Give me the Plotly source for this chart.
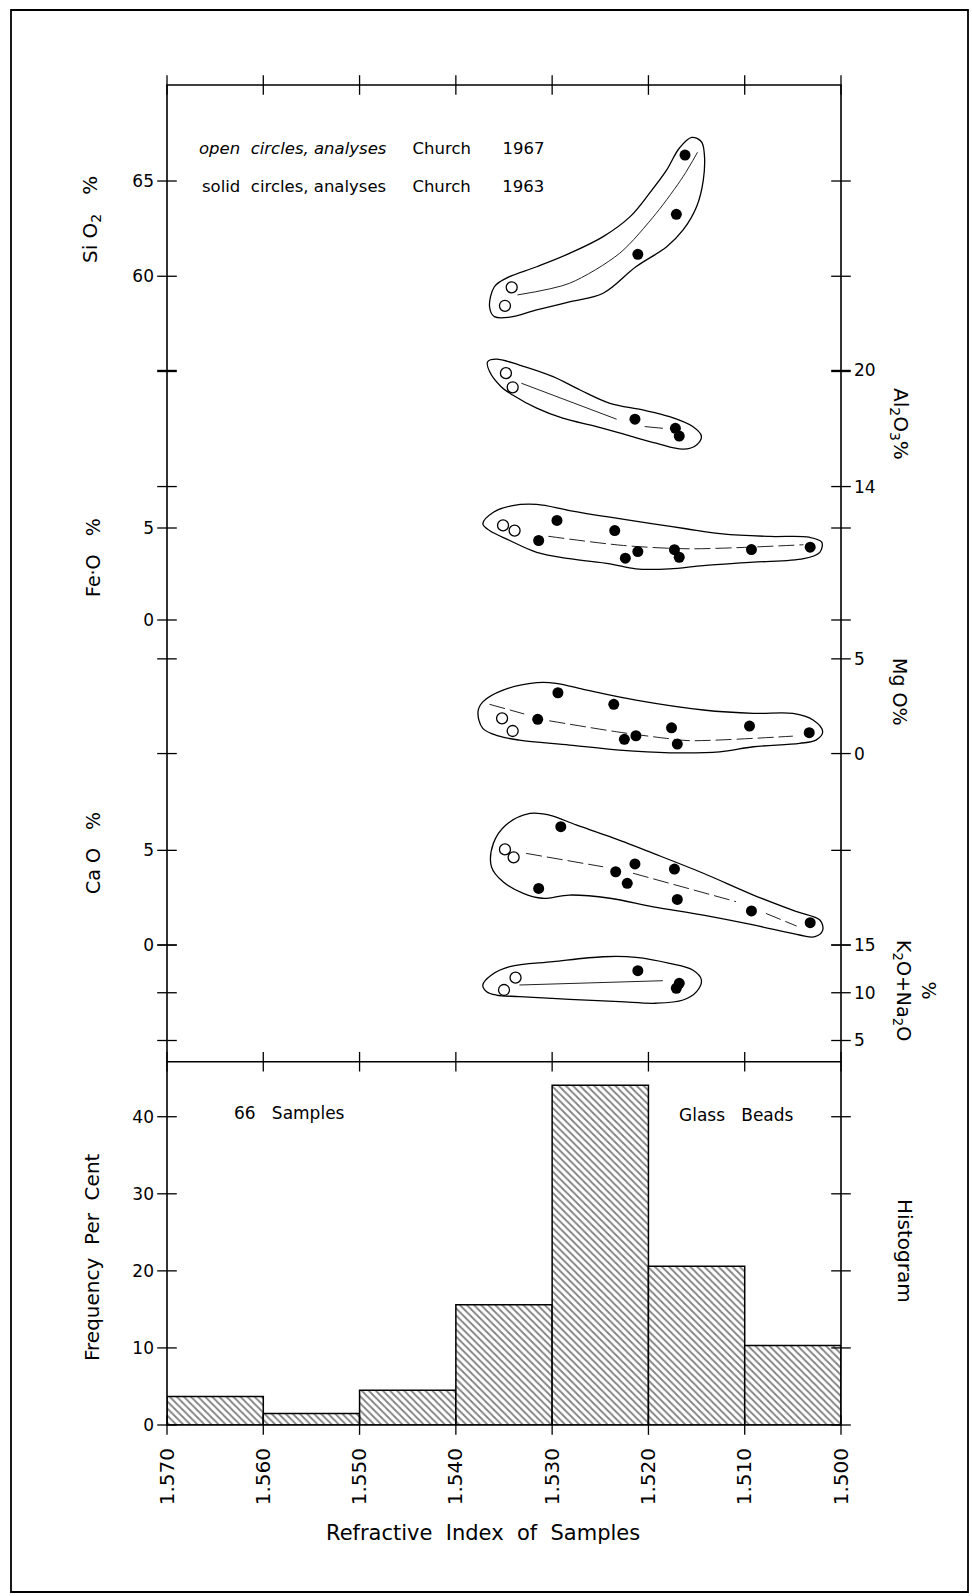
import plotly.graph_objects as go

# ---------------- data ----------------
RI_TICKS = [1.570, 1.560, 1.550, 1.540, 1.530, 1.520, 1.510, 1.500]
RI_LABELS = ["1.570", "1.560", "1.550", "1.540", "1.530", "1.520", "1.510", "1.500"]

HIST_LEFT_EDGES = [1.570, 1.560, 1.550, 1.540, 1.530, 1.520, 1.510]
HIST_FREQ = [3.7, 1.5, 4.5, 15.6, 44.1, 20.6, 10.3]
HIST_TICKS = [0, 10, 20, 30, 40]

# SiO2
SIO2_OPEN_RI = [1.5342, 1.5349]
SIO2_OPEN = [59.42, 58.45]
SIO2_SOLID_RI = [1.5162, 1.5171, 1.5211]
SIO2_SOLID = [66.36, 63.25, 61.15]
SIO2_ENV_RI = [1.5365, 1.5360, 1.5348, 1.5316, 1.5282, 1.5247, 1.5219, 1.5199, 1.5181, 1.5168, 1.5155, 1.5145,
               1.5142, 1.5143, 1.5150, 1.5164, 1.5181, 1.5213, 1.5247, 1.5282, 1.5316, 1.5344, 1.5360]
SIO2_ENV = [58.40, 59.45, 59.89, 60.50, 61.20, 62.08, 63.13, 64.35, 65.58, 66.72, 67.29, 67.06,
            66.45, 65.05, 63.65, 62.43, 61.55, 60.50, 59.11, 58.66, 58.23, 57.85, 57.88]
SIO2_TREND_RI = [1.5336, 1.5282, 1.5230, 1.5192, 1.5164, 1.5149]
SIO2_TREND = [59.02, 59.63, 61.20, 63.30, 65.23, 66.51]

# Al2O3
AL_OPEN_RI = [1.5348, 1.5341]
AL_OPEN = [19.86, 19.13]
AL_SOLID_RI = [1.5214, 1.5172, 1.5168]
AL_SOLID = [17.48, 17.01, 16.61]
AL_ENV_RI = [1.5367, 1.5358, 1.5334, 1.5299, 1.5271, 1.5240, 1.5206, 1.5178, 1.5154, 1.5145, 1.5150, 1.5164,
             1.5192, 1.5223, 1.5254, 1.5289, 1.5316, 1.5341, 1.5353, 1.5365]
AL_ENV = [20.45, 20.58, 20.28, 19.68, 18.99, 18.30, 17.96, 17.61, 17.10, 16.61, 16.15, 15.93,
          16.24, 16.67, 17.10, 17.53, 18.05, 18.73, 19.16, 19.94]
AL_TREND_RI = [1.5332, 1.5233, None, 1.5204, 1.5185]
AL_TREND = [19.34, 17.48, None, 17.10, 17.01]

# FeO
FE_OPEN_RI = [1.5351, 1.5339]
FE_OPEN = [5.14, 4.86]
FE_SOLID_RI = [1.5295, 1.5235, 1.5314, 1.5211, 1.5224, 1.5173, 1.5168, 1.5093, 1.5032]
FE_SOLID = [5.41, 4.86, 4.32, 3.72, 3.36, 3.82, 3.41, 3.83, 3.96]
FE_ENV_RI = [1.5372, 1.5361, 1.5341, 1.5316, 1.5282, 1.5240, 1.5195, 1.5161, 1.5123, 1.5074, 1.5033, 1.5020,
             1.5022, 1.5039, 1.5091, 1.5143, 1.5178, 1.5213, 1.5240, 1.5282, 1.5316, 1.5344, 1.5365]
FE_ENV = [5.23, 5.86, 6.22, 6.28, 5.95, 5.59, 5.23, 4.96, 4.68, 4.54, 4.50, 4.23,
          3.68, 3.33, 3.14, 2.96, 2.78, 2.78, 3.05, 3.33, 3.68, 4.32, 4.86]
FE_TREND_RI = [1.5304, 1.5226, 1.5157, 1.5039]
FE_TREND = [4.55, 4.05, 3.87, 4.09]

# MgO
MG_OPEN_RI = [1.5352, 1.5341]
MG_OPEN = [1.86, 1.19]
MG_SOLID_RI = [1.5294, 1.5236, 1.5315, 1.5213, 1.5225, 1.5176, 1.5170, 1.5095, 1.5033]
MG_SOLID = [3.21, 2.60, 1.81, 0.94, 0.75, 1.36, 0.50, 1.45, 1.10]
MG_ENV_RI = [1.5377, 1.5372, 1.5351, 1.5316, 1.5296, 1.5264, 1.5213, 1.5143, 1.5091, 1.5050, 1.5029, 1.5019,
             1.5026, 1.5043, 1.5091, 1.5126, 1.5178, 1.5230, 1.5282, 1.5334, 1.5355, 1.5372]
MG_ENV = [2.21, 2.73, 3.35, 3.74, 3.71, 3.35, 2.82, 2.30, 2.12, 2.12, 1.77, 1.15,
          0.71, 0.54, 0.36, 0.09, 0.04, 0.18, 0.45, 0.71, 0.92, 1.33]
MG_TREND_RI = [1.5365, 1.5329, None, 1.5303, 1.5233, 1.5181, 1.5157, 1.5050]
MG_TREND = [2.60, 2.09, None, 1.73, 1.15, 0.80, 0.68, 0.92]

# CaO
CA_OPEN_RI = [1.5349, 1.5340]
CA_OPEN = [5.05, 4.63]
CA_SOLID_RI = [1.5291, 1.5314, 1.5234, 1.5214, 1.5222, 1.5173, 1.5170, 1.5093, 1.5032]
CA_SOLID = [6.25, 2.99, 3.87, 4.28, 3.26, 4.01, 2.41, 1.80, 1.18]
CA_ENV_RI = [1.5363, 1.5361, 1.5348, 1.5323, 1.5303, 1.5275, 1.5240, 1.5195, 1.5143, 1.5091, 1.5046, 1.5022,
             1.5019, 1.5027, 1.5043, 1.5091, 1.5143, 1.5195, 1.5240, 1.5282, 1.5310, 1.5330, 1.5351]
CA_ENV = [4.13, 5.37, 6.34, 6.95, 6.86, 6.34, 5.72, 4.84, 3.79, 2.64, 1.76, 1.32,
          0.79, 0.44, 0.53, 1.06, 1.58, 2.02, 2.47, 2.64, 2.47, 2.73, 3.34]
CA_TREND_RI = [1.5327, 1.5247, None, 1.5216, 1.5109, None, 1.5078, 1.5046]
CA_TREND = [4.84, 4.13, None, 3.79, 2.29, None, 1.67, 1.00]

# K2O + Na2O
KN_OPEN_RI = [1.5338, 1.5350]
KN_OPEN = [11.58, 10.29]
KN_SOLID_RI = [1.5211, 1.5168, 1.5171]
KN_SOLID = [12.31, 10.99, 10.47]
KN_ENV_RI = [1.5372, 1.5363, 1.5344, 1.5299, 1.5247, 1.5213, 1.5178, 1.5154, 1.5145, 1.5150, 1.5164, 1.5192,
             1.5230, 1.5282, 1.5334, 1.5358, 1.5368]
KN_ENV = [10.81, 11.86, 12.73, 13.25, 13.77, 13.71, 13.08, 12.38, 11.34, 10.11, 9.24, 8.90,
          9.06, 9.31, 9.59, 9.76, 10.11]
KN_TREND_RI = [1.5334, 1.5185]
KN_TREND = [10.81, 11.26]

# axis tick values per oxide
SIO2_TICKS, SIO2_LABELED = [55, 60, 65], [60, 65]
AL_TICKS = [14, 20]
FE_TICKS = [0, 5]
MG_TICKS = [0, 5]
CA_TICKS = [0, 5]
KN_TICKS = [5, 10, 15]

# ---------------- layout geometry ----------------
W_FIG, H_FIG = 972, 1596
L, R, T, B = 167, 841, 85, 1425
PW, PH = R - L, B - T
DIV = 1061.7


def fx(px):
    return (px - L) / PW


def fy(py):
    return (B - py) / PH


SPLIT = fy(DIV)

RNG = {
    "y2": [18.77, 70.04],   # SiO2
    "y3": [-15.72, 34.75],  # Al2O3
    "y4": [-24.01, 29.08],  # FeO
    "y5": [-16.27, 35.30],  # MgO
    "y6": [-6.16, 45.41],   # CaO
    "y7": [2.78, 105.05],   # K2O+Na2O
}
HIST_RANGE = [0, 47.14]
X_RANGE = [1.570, 1.500]

NUM_FONT = dict(family="DejaVu Sans, sans-serif", size=17, color="black")
TXT_FONT = "DejaVu Sans, sans-serif"

fig = go.Figure()

# histogram
centers = [e - 0.005 for e in HIST_LEFT_EDGES]
fig.add_trace(go.Bar(
    x=centers, y=HIST_FREQ, width=[0.01] * len(centers), xaxis="x", yaxis="y",
    marker=dict(color="white", line=dict(color="black", width=1.5),
                pattern=dict(shape="\\", fgcolor="black", bgcolor="white", size=5, solidity=0.35)),
    hoverinfo="skip", showlegend=False))

groups = [
    ("y2", SIO2_OPEN_RI, SIO2_OPEN, SIO2_SOLID_RI, SIO2_SOLID, SIO2_ENV_RI, SIO2_ENV, SIO2_TREND_RI, SIO2_TREND, "solid"),
    ("y3", AL_OPEN_RI, AL_OPEN, AL_SOLID_RI, AL_SOLID, AL_ENV_RI, AL_ENV, AL_TREND_RI, AL_TREND, "solid"),
    ("y4", FE_OPEN_RI, FE_OPEN, FE_SOLID_RI, FE_SOLID, FE_ENV_RI, FE_ENV, FE_TREND_RI, FE_TREND, "16px,5px"),
    ("y5", MG_OPEN_RI, MG_OPEN, MG_SOLID_RI, MG_SOLID, MG_ENV_RI, MG_ENV, MG_TREND_RI, MG_TREND, "16px,5px"),
    ("y6", CA_OPEN_RI, CA_OPEN, CA_SOLID_RI, CA_SOLID, CA_ENV_RI, CA_ENV, CA_TREND_RI, CA_TREND, "16px,5px"),
    ("y7", KN_OPEN_RI, KN_OPEN, KN_SOLID_RI, KN_SOLID, KN_ENV_RI, KN_ENV, KN_TREND_RI, KN_TREND, "solid"),
]

for yax, ori, ov, sri, sv, eri, ev, tri, tv, dash in groups:
    fig.add_trace(go.Scatter(x=eri + [eri[0]], y=ev + [ev[0]], xaxis="x2", yaxis=yax, mode="lines",
                             line=dict(color="black", width=1.3, shape="spline", smoothing=1.0),
                             hoverinfo="skip", showlegend=False))
    fig.add_trace(go.Scatter(x=tri, y=tv, xaxis="x2", yaxis=yax, mode="lines",
                             line=dict(color="#222222", width=1.0, dash=dash, shape="spline", smoothing=0.8),
                             connectgaps=False, hoverinfo="skip", showlegend=False))
    fig.add_trace(go.Scatter(x=ori, y=ov, xaxis="x2", yaxis=yax, mode="markers",
                             marker=dict(symbol="circle-open", size=11, color="black", line=dict(width=1.3)),
                             hoverinfo="skip", showlegend=False))
    fig.add_trace(go.Scatter(x=sri, y=sv, xaxis="x2", yaxis=yax, mode="markers",
                             marker=dict(symbol="circle", size=11, color="black"),
                             hoverinfo="skip", showlegend=False))

# crossing tick marks (markers on axis lines)
TICK_MARK_EW = dict(symbol="line-ew", size=14, line=dict(width=1.3, color="black"))
TICK_MARK_NS = dict(symbol="line-ns", size=14, line=dict(width=1.3, color="black"))
tick_sets = [("y2", SIO2_TICKS), ("y3", AL_TICKS), ("y4", FE_TICKS), ("y5", MG_TICKS),
             ("y6", CA_TICKS), ("y7", KN_TICKS)]
for yax, tv in tick_sets:
    for xe in (X_RANGE[0], X_RANGE[1]):
        fig.add_trace(go.Scatter(x=[xe] * len(tv), y=tv, xaxis="x2", yaxis=yax, mode="markers",
                                 marker=TICK_MARK_EW, cliponaxis=False, hoverinfo="skip", showlegend=False))
for xe in (X_RANGE[0], X_RANGE[1]):
    fig.add_trace(go.Scatter(x=[xe] * len(HIST_TICKS), y=HIST_TICKS, xaxis="x", yaxis="y", mode="markers",
                             marker=TICK_MARK_EW, cliponaxis=False, hoverinfo="skip", showlegend=False))
for yv in (HIST_RANGE[0], HIST_RANGE[1]):
    fig.add_trace(go.Scatter(x=RI_TICKS, y=[yv] * len(RI_TICKS), xaxis="x", yaxis="y", mode="markers",
                             marker=TICK_MARK_NS, cliponaxis=False, hoverinfo="skip", showlegend=False))
fig.add_trace(go.Scatter(x=RI_TICKS, y=[RNG["y2"][1]] * len(RI_TICKS), xaxis="x2", yaxis="y2", mode="markers",
                         marker=TICK_MARK_NS, cliponaxis=False, hoverinfo="skip", showlegend=False))

blank = dict(showgrid=False, zeroline=False, showline=False, ticks="")


def yax(rng, side, tickvals, overlay=True):
    d = dict(blank, range=rng, side=side, anchor="x2", tickvals=tickvals,
             ticktext=[str(v) for v in tickvals], tickfont=NUM_FONT, ticklabelstandoff=12)
    if overlay:
        d["overlaying"] = "y2"
    return d


layout = dict(
    width=W_FIG, height=H_FIG,
    margin=dict(l=L, r=W_FIG - R, t=T, b=H_FIG - B),
    paper_bgcolor="white", plot_bgcolor="rgba(0,0,0,0)",
    showlegend=False,
    xaxis=dict(blank, domain=[0, 1], range=X_RANGE, anchor="y", tickvals=RI_TICKS, ticktext=RI_LABELS,
               tickangle=-90, tickfont=dict(NUM_FONT, size=20), ticklabelstandoff=18),
    yaxis=dict(blank, domain=[0, SPLIT], range=HIST_RANGE, anchor="x", tickvals=HIST_TICKS,
               ticktext=[str(v) for v in HIST_TICKS], tickfont=NUM_FONT, ticklabelstandoff=12),
    xaxis2=dict(blank, domain=[0, 1], range=X_RANGE, anchor="y2", showticklabels=False),
    yaxis2=dict(yax(RNG["y2"], "left", SIO2_LABELED, overlay=False), domain=[SPLIT, 1]),
    yaxis3=yax(RNG["y3"], "right", AL_TICKS),
    yaxis4=yax(RNG["y4"], "left", FE_TICKS),
    yaxis5=yax(RNG["y5"], "right", MG_TICKS),
    yaxis6=yax(RNG["y6"], "left", CA_TICKS),
    yaxis7=yax(RNG["y7"], "right", KN_TICKS),
)
fig.update_layout(**layout)

# frame
shapes = [
    dict(type="rect", xref="paper", yref="paper", x0=0, x1=1, y0=0, y1=1, line=dict(color="black", width=1.6)),
    dict(type="line", xref="paper", yref="paper", x0=0, x1=1, y0=SPLIT, y1=SPLIT, line=dict(color="black", width=1.6)),
    dict(type="rect", xref="paper", yref="paper", x0=fx(11), x1=fx(968), y0=fy(1592), y1=fy(10),
         line=dict(color="black", width=1.8)),
]
fig.update_layout(shapes=shapes)

NB = "\u00a0"
ann = []


def add_text(text, px, py, size, family, angle=0, xanchor="center"):
    ann.append(dict(text=text, x=fx(px), y=fy(py), xref="paper", yref="paper", showarrow=False,
                    xanchor=xanchor, yanchor="middle", textangle=angle,
                    font=dict(family=family, size=size, color="black")))


TITLE_F = "DejaVu Sans, sans-serif"
add_text("<i>open" + NB * 2 + "circles," + NB + "analyses</i>" + NB * 5 + "Church" + NB * 6 + "1967", 197, 148, 16.5, TXT_FONT, xanchor="left")
add_text("solid" + NB * 2 + "circles," + NB + "analyses" + NB * 5 + "Church" + NB * 6 + "1963", 200, 187, 16.5, TXT_FONT, xanchor="left")
add_text("66" + NB * 3 + "Samples", 232, 1113, 17, TXT_FONT, xanchor="left")
add_text("Glass" + NB * 3 + "Beads", 677, 1115, 17, TXT_FONT, xanchor="left")
add_text("Refractive" + NB * 2 + "Index" + NB * 2 + "of" + NB * 2 + "Samples", 483, 1533, 21, TXT_FONT)

add_text("Si" + NB + "O<sub>2</sub>" + NB * 3 + "%", 91, 220, 20, TITLE_F, angle=-90)
add_text("Fe·O" + NB * 3 + "%", 93, 558, 19, TITLE_F, angle=-90)
add_text("Ca" + NB + "O" + NB * 3 + "%", 93, 853, 19, TITLE_F, angle=-90)
add_text("Frequency" + NB * 2 + "Per" + NB * 2 + "Cent", 92, 1257, 20, TITLE_F, angle=-90)

add_text("Al<sub>2</sub>O<sub>3</sub>%", 900, 424, 20, TITLE_F, angle=90)
add_text("Mg" + NB + "O%", 900, 692, 19, TITLE_F, angle=90)
add_text("%<br>K<sub>2</sub>O+Na<sub>2</sub>O", 915, 991, 19, TITLE_F, angle=90)
add_text("Histogram", 905, 1251, 20, TITLE_F, angle=90)

fig.update_layout(annotations=ann)

fig.write_html("out.html", config={"displayModeBar": False})
